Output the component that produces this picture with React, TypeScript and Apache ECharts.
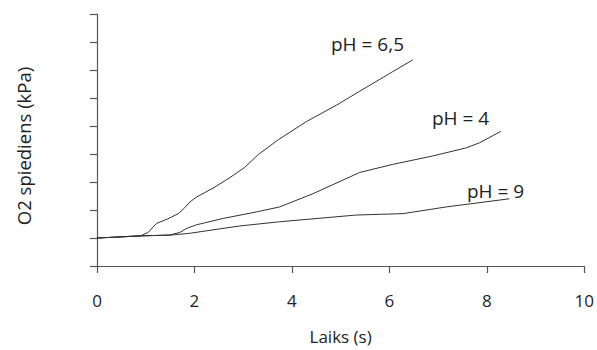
import React, { useEffect, useRef } from "react";
import * as echarts from "echarts";

const t65 = [0, 0.4, 0.9, 1.05, 1.22, 1.45, 1.67, 1.8, 1.91, 2.04, 2.4, 2.73, 3.03, 3.31, 3.72, 4.3, 4.91, 5.39, 6.0, 6.48];
const o65 = [1.0, 1.03, 1.08, 1.2, 1.52, 1.68, 1.87, 2.08, 2.29, 2.46, 2.8, 3.16, 3.52, 3.98, 4.51, 5.16, 5.74, 6.24, 6.87, 7.36];
const t4 = [0, 0.9, 1.5, 1.7, 1.85, 2.04, 2.59, 3.27, 3.75, 4.43, 5.39, 6.07, 6.89, 7.58, 7.85, 8.29];
const o4 = [1.0, 1.07, 1.11, 1.2, 1.35, 1.47, 1.7, 1.93, 2.11, 2.58, 3.34, 3.63, 3.93, 4.22, 4.4, 4.81];
const t9 = [0, 0.88, 1.5, 1.91, 2.93, 3.75, 5.32, 6.28, 7.17, 8.46];
const o9 = [1.0, 1.08, 1.1, 1.17, 1.43, 1.58, 1.82, 1.87, 2.11, 2.4];
const seriesNames = ["pH = 6,5", "pH = 4", "pH = 9"];
const xName = "Laiks (s)";
const yName = "O2 spiediens (kPa)";

const FONT = "'Open Sans', 'Noto Sans', sans-serif";

export default function App() {
  const ref = useRef<HTMLDivElement>(null);
  useEffect(() => {
    if (!ref.current) return;
    const chart = echarts.init(ref.current, undefined, { renderer: "svg" });
    const zip = (t: number[], o: number[]) => t.map((v, i) => [v, o[i]]);
    const lineStyle = { color: "#333", width: 1 };
    chart.setOption({
      animation: false,
      grid: { left: 97, right: 12, top: 14, bottom: 80 },
      xAxis: {
        type: "value",
        min: 0,
        max: 10,
        interval: 2,
        name: xName,
        nameLocation: "middle",
        nameGap: 62,
        nameTextStyle: { fontFamily: FONT, fontSize: 17, color: "#222" },
        axisLine: { show: true, lineStyle: { color: "#555", width: 1.2 } },
        axisTick: { show: true, length: 7, lineStyle: { color: "#555", width: 1.2 } },
        axisLabel: { fontFamily: FONT, fontSize: 17, color: "#222", margin: 26 },
        splitLine: { show: false },
      },
      yAxis: {
        type: "value",
        min: 0,
        max: 9,
        interval: 1,
        name: yName,
        nameLocation: "middle",
        nameGap: 64,
        nameTextStyle: { fontFamily: FONT, fontSize: 18.5, color: "#222", padding: [0, 12, 0, 0] },
        axisLine: { show: true, lineStyle: { color: "#555", width: 1.2 } },
        axisTick: { show: true, length: 7, lineStyle: { color: "#555", width: 1.2 } },
        axisLabel: { show: false },
        splitLine: { show: false },
      },
      series: [
        { name: seriesNames[0], type: "line", data: zip(t65, o65), symbol: "none", lineStyle },
        { name: seriesNames[1], type: "line", data: zip(t4, o4), symbol: "none", lineStyle },
        { name: seriesNames[2], type: "line", data: zip(t9, o9), symbol: "none", lineStyle },
      ],
      graphic: [
        { type: "text", x: 331, y: 44, style: { text: seriesNames[0], fontFamily: FONT, fontSize: 19, fill: "#222", verticalAlign: "middle" } },
        { type: "text", x: 432, y: 118, style: { text: seriesNames[1], fontFamily: FONT, fontSize: 19, fill: "#222", verticalAlign: "middle" } },
        { type: "text", x: 467, y: 191, style: { text: seriesNames[2], fontFamily: FONT, fontSize: 19, fill: "#222", verticalAlign: "middle" } },
      ],
    });
    return () => chart.dispose();
  }, []);
  return <div ref={ref} style={{ width: 597, height: 350, position: "absolute", left: 0, top: 0 }} />;
}
